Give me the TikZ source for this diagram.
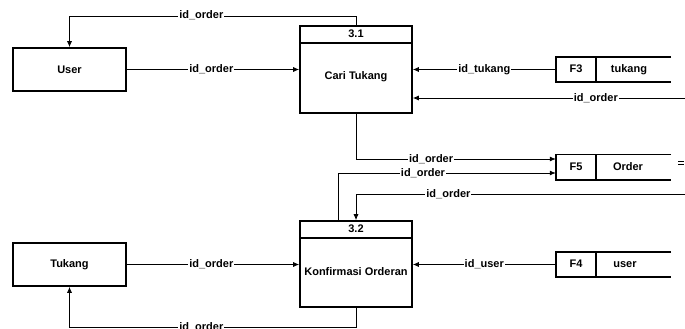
\documentclass[tikz,border=0pt]{standalone}
\usepackage{fontspec}
\setmainfont{Liberation Sans}
\usetikzlibrary{arrows.meta}
\begin{document}
\begin{tikzpicture}[x=1pt,y=-1pt,
 ent/.style={draw,line width=1.6pt,minimum width=113pt,minimum height=43pt,inner sep=0pt,font=\bfseries\fontsize{11}{13}\selectfont},
 proc/.style={draw,line width=1.6pt,minimum width=112pt,inner sep=0pt},
 txt/.style={font=\bfseries\fontsize{11}{13}\selectfont,inner sep=0pt,text height=8pt,text depth=2pt},
 lbl/.style={fill=white,inner sep=1pt,font=\bfseries\fontsize{11}{13}\selectfont,text height=8pt,text depth=2pt},
 flow/.style={line width=0.8pt,-{Latex[length=6pt,width=5pt]}},
 plain/.style={line width=0.8pt},
 storeline/.style={line width=1.6pt},
 slot/.style={minimum width=115pt,minimum height=25pt,inner sep=0pt}
]
\useasboundingbox (0,0) rectangle (685,329);

% external entities
\node[ent] (user) at (69.5,69.5) {User};
\node[ent] (tukang) at (69.5,264.5) {Tukang};

% process 3.1
\node[proc,minimum height=87pt] (p31) at (356,69.5) {};
\draw[storeline] (p31.west |- 0,43) -- (p31.east |- 0,43);
\node[txt] (p31n) at (356,34.5) {3.1};
\node[txt] (p31t) at (356,77) {Cari Tukang};

% process 3.2
\node[proc,minimum height=86pt] (p32) at (356,264) {};
\draw[storeline] (p32.west |- 0,238) -- (p32.east |- 0,238);
\node[txt] (p32n) at (356,229.5) {3.2};
\node[txt] (p32t) at (356,272) {Konfirmasi Orderan};

% data stores
\foreach \nm/\cy/\code/\title/\tx in {f3/69.5/F3/tukang/629, f5/167/F5/Order/628, f4/264.5/F4/user/625}{
  \node[slot] (\nm) at (613.5,\cy) {};
  \draw[storeline] (\nm.north east) -- (\nm.north west) -- (\nm.south west) -- (\nm.south east);
  \draw[storeline] ([xshift=40pt]\nm.north west) -- ([xshift=40pt]\nm.south west);
  \node[txt] (\nm c) at (576,\cy) {\code};
  \node[txt] (\nm t) at (\tx,\cy) {\title};
}

% small mark at the right of F5
\draw[line width=0.6pt] (678,161) -- (684,161) (678,164.5) -- (684,164.5);

% connectors
\draw[flow] (user) -- node[lbl,pos=0.49]{id\_order} (p31);
\coordinate (t1) at (356,16);
\draw[flow] (p31.north) -- (t1) -- node[lbl,pos=0.54]{id\_order} (t1 -| user.north) -- (user.north);
\draw[flow] (f3.west) -- node[lbl,pos=0.5]{id\_tukang} (p31.east |- f3.west);
\coordinate (r1) at (686,98);
\draw[flow] (r1) -- node[lbl,pos=0.33]{id\_order} (p31.east |- r1);
\coordinate (b1) at (356,159);
\draw[flow] (p31.south) -- (b1) -- node[lbl,pos=0.376]{id\_order} (f5.west |- b1);
\coordinate (b2) at (338,173);
\draw[flow] (p32.north -| b2) -- (b2) -- node[lbl,pos=0.39]{id\_order} (f5.west |- b2);
\coordinate (r2) at (686,194);
\draw[flow] (r2) -- node[lbl,pos=0.72]{id\_order} (r2 -| p32.north) -- (p32.north);
\draw[flow] (tukang) -- node[lbl,pos=0.49]{id\_order} (p32.west |- tukang);
\draw[flow] (f4.west) -- node[lbl,pos=0.5]{id\_user} (p32.east |- f4.west);
\coordinate (t2) at (356,327.5);
\draw[flow] (p32.south) -- (t2) -- node[lbl,pos=0.54]{id\_order} (t2 -| tukang.south) -- (tukang.south);
\end{tikzpicture}
\end{document}
